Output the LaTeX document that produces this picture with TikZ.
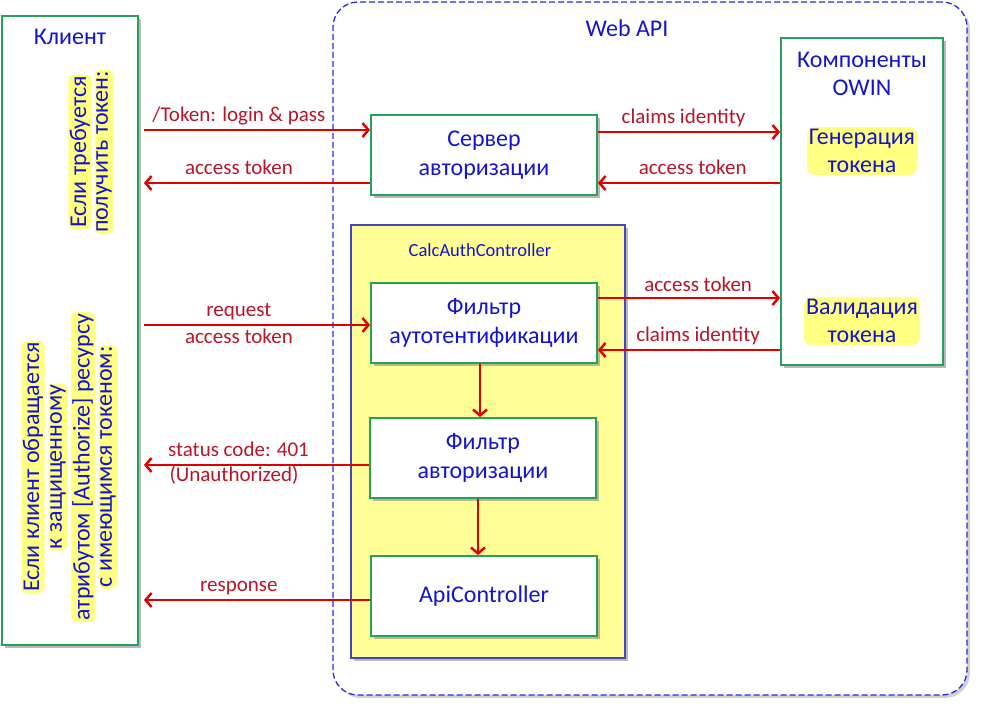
\documentclass[tikz,border=0pt]{standalone}
\usepackage{fontspec}
\setmainfont{Carlito}
\usetikzlibrary{arrows.meta,shadows}
\definecolor{gbord}{RGB}{40,160,90}
\definecolor{tblue}{RGB}{20,20,205}
\definecolor{ared}{RGB}{225,0,0}
\definecolor{lred}{RGB}{185,20,40}
\definecolor{cyel}{RGB}{255,255,150}
\definecolor{cbord}{RGB}{70,70,190}
\definecolor{dblue}{RGB}{40,40,230}
\definecolor{glowc}{RGB}{255,255,130}
\begin{document}
\begin{tikzpicture}[x=1pt,y=-1pt,
  shad/.style={drop shadow={shadow xshift=3pt,shadow yshift=-3pt,fill=black!50,opacity=0.55}},
  box/.style={draw=gbord,line width=1.8pt,fill=white,shad,minimum width=226pt,minimum height=80pt,
    align=center,text=tblue,font=\fontsize{24}{29}\selectfont},
  ttl/.style={text=tblue,align=center,font=\fontsize{24}{28}\selectfont},
  glow/.style={ttl,fill=glowc,rounded corners=7pt,inner sep=2pt},
  vline/.style={text=tblue,font=\fontsize{24}{25}\selectfont,fill=glowc,rounded corners=6pt,inner sep=1.5pt,rotate=90},
  arr/.style={draw=ared,line width=2.5pt,-{Straight Barb[length=6pt,width=14pt,line width=2.5pt]}},
  lab/.style={text=lred,font=\fontsize{21}{25}\selectfont,inner sep=2pt,text height=15pt,text depth=5pt}]
\useasboundingbox (0,0) rectangle (982,710);

% Web API container
\node[draw=dblue,line width=1.3pt,dash pattern=on 6pt off 3pt,rounded corners=25pt,fill=white,
  drop shadow={shadow xshift=3pt,shadow yshift=-3pt,fill=black!30,opacity=0.6},
  minimum width=634pt,minimum height=693pt] (web) at (650,348.5) {};
\node[ttl] (webt) at (627,28) {Web API};

% Client
\node[draw=gbord,line width=1.8pt,fill=white,shad,minimum width=136pt,minimum height=629pt] (client) at (70,330.5) {};
\node[ttl] (clientt) at (70,37) {Клиент};
\node[vline] (c1) at (80,152) {Если требуется};
\node[vline] (c2) at (104,152) {получить токен:};
\node[vline] (c3) at (33,467) {Если клиент обращается};
\node[vline] (c4) at (58,467) {к защищенному};
\node[vline] (c5) at (83,467) {атрибутом [Authorize] ресурсу};
\node[vline] (c6) at (108,467) {с имеющимся токеном:};

% OWIN
\node[draw=gbord,line width=1.8pt,fill=white,shad,minimum width=162pt,minimum height=327pt] (owin) at (862,201.5) {};
\node[ttl] (owint) at (862,74) {Компоненты\\OWIN};
\node[glow] (gen) at (862,151) {Генерация\\токена};
\node[glow] (val) at (862,321) {Валидация\\токена};

% CalcAuthController
\node[draw=cbord,line width=1.5pt,fill=cyel,shad,minimum width=274pt,minimum height=433pt] (calc) at (488,441.5) {};
\node[text=tblue,font=\fontsize{18.5}{22}\selectfont] (calct) at (480,250) {CalcAuthController};

% boxes
\node[box] (server) at (484,155) {Сервер\\авторизации};
\node[box] (f1) at (484,323) {Фильтр\\аутотентификации};
\node[box] (f2) at (483,458) {Фильтр\\авторизации};
\node[box] (api) at (484,596) {ApiController};

% arrows client <-> server
\draw[arr] ([xshift=5pt]client.east |- 0,130) -- node[lab,above,pos=0.42] {/Token: login \& pass} (server.west |- 0,130);
\draw[arr] (server.west |- 0,183) -- node[lab,above,pos=0.58] {access token} ([xshift=5pt]client.east |- 0,183);
% server <-> owin
\draw[arr] (server.east |- 0,132) -- node[lab,above,pos=0.47] {claims identity} (owin.west |- 0,132);
\draw[arr] (owin.west |- 0,183) -- node[lab,above,pos=0.48] {access token} (server.east |- 0,183);
% client -> f1
\draw[arr] ([xshift=5pt]client.east |- 0,325) -- node[lab,above,pos=0.42] {request} node[lab,below,pos=0.42] {access token} (f1.west |- 0,325);
% f1 <-> owin
\draw[arr] (f1.east |- 0,298) -- node[lab,above,pos=0.55,inner sep=0pt] {access token} (owin.west |- 0,298);
\draw[arr] (owin.west |- 0,350) -- node[lab,above,pos=0.45] {claims identity} (f1.east |- 0,350);
% vertical
\draw[arr] (f1.south -| 480,0) -- (f2.north -| 480,0);
\draw[arr] (f2.south -| 478,0) -- (api.north -| 478,0);
% back to client
\draw[arr] (f2.west |- 0,465) -- node[lab,above,pos=0.58] {status code: 401} node[lab,below,pos=0.60,inner sep=0pt] {(Unauthorized)} ([xshift=5pt]client.east |- 0,465);
\draw[arr] (api.west |- 0,600) -- node[lab,above,pos=0.58] {response} ([xshift=5pt]client.east |- 0,600);
\end{tikzpicture}
\end{document}
